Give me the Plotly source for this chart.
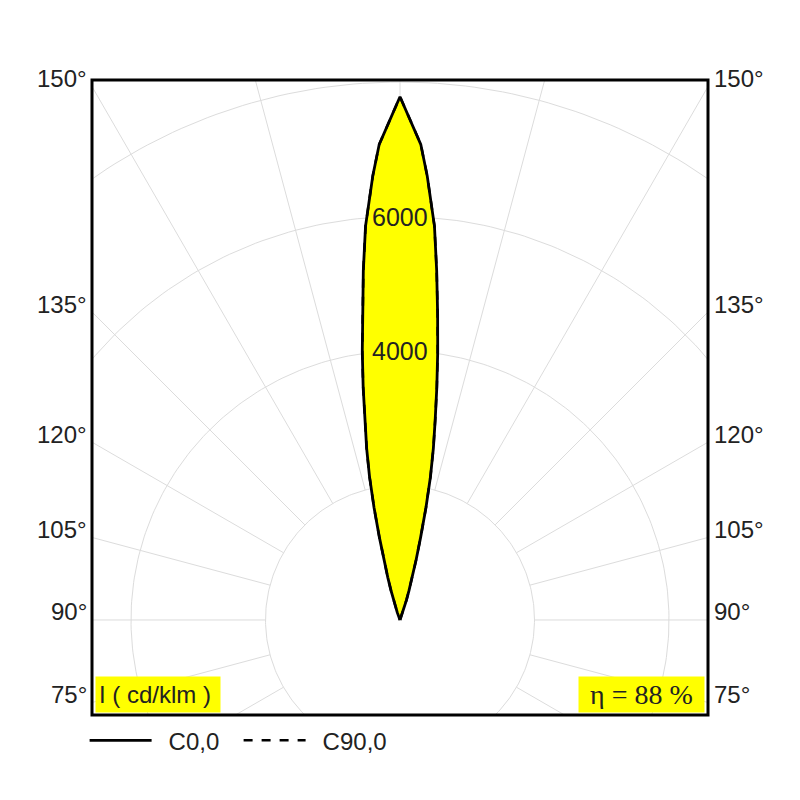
import numpy as np
import plotly.graph_objects as go

# --- Data --------------------------------------------------------------------

# gamma angle (deg, 180 = straight up) and luminous intensity in cd/klm
gamma = [158, 160, 162, 163, 164, 165, 166, 167, 168, 169, 170,
         171, 172, 173, 174, 175, 176.5, 177.5, 180]
c0_cd = [0, 120, 310, 460, 660, 930, 1270, 1720, 2180, 2600, 3010,
         3500, 4030, 4590, 5220, 5880, 6620, 7080, 7780]
c90_cd = [0, 120, 310, 460, 660, 930, 1270, 1720, 2180, 2600, 3010,
          3500, 4030, 4590, 5220, 5880, 6620, 7080, 7780]

ring_values = [2000, 4000, 6000, 8000]
ring_labels = [4000, 6000]
side_ticks = [75, 90, 105, 120, 135, 150]
spoke_step = 15
efficiency = 88

# --- Style -------------------------------------------------------------------

FONT = "Liberation Sans, Arial, sans-serif"
SERIF = "Liberation Serif, Times New Roman, serif"
TXT = "#222"
GRID = "#dcdcdc"
YELLOW = "#ffff00"

X_HALF = 4580
Y_RANGE = [-1413, 8030]


def polar_to_xy(g_deg, r):
    g = np.radians(np.asarray(g_deg, dtype=float))
    r = np.asarray(r, dtype=float)
    return r * np.sin(g), -r * np.cos(g)


def beam_outline(cd):
    # C0 on the right, C180 mirrored on the left
    x, y = polar_to_xy(gamma, cd)
    xs = np.concatenate([[0], x, -x[::-1], [0]])
    ys = np.concatenate([[0], y, y[::-1], [0]])
    return xs, ys


fig = go.Figure()

# Grid rings
t = np.linspace(0, 360, 361)
for rv in ring_values:
    gx, gy = polar_to_xy(t, np.full_like(t, rv))
    fig.add_trace(go.Scatter(x=gx, y=gy, mode="lines", showlegend=False,
                             line=dict(color=GRID, width=1), hoverinfo="skip"))

# Spokes, starting at the first ring
for a in range(0, 360, spoke_step):
    sx, sy = polar_to_xy([a, a], [ring_values[0], 20000])
    fig.add_trace(go.Scatter(x=sx, y=sy, mode="lines", showlegend=False,
                             line=dict(color=GRID, width=1), hoverinfo="skip"))

# C0 fill
bx, by = beam_outline(c0_cd)
fig.add_trace(go.Scatter(x=bx, y=by, mode="lines", showlegend=False,
                         fill="toself", fillcolor=YELLOW,
                         line=dict(color="black", width=0), hoverinfo="skip"))

# C90 (dashed, sits under C0)
bx90, by90 = beam_outline(c90_cd)
fig.add_trace(go.Scatter(x=bx90, y=by90, mode="lines", name="\u2002C90,0",
                         line=dict(color="black", width=2.5, dash="dash")))

# C0 outline
fig.add_trace(go.Scatter(x=bx, y=by, mode="lines", name="\u2002C0,0",
                         line=dict(color="black", width=2.8)))

# Ring labels
for rv in ring_labels:
    fig.add_annotation(x=0, y=rv, text=str(rv), showarrow=False,
                       font=dict(family=FONT, size=25, color=TXT))

# Side angle labels where the spokes meet the frame
for g in side_ticks:
    gr = np.radians(g)
    yv = X_HALF * (-np.cos(gr)) / np.sin(gr)
    for side, xa in ((0, "right"), (1, "left")):
        fig.add_annotation(xref="paper", x=side, y=yv, yshift=8,
                           xshift=-3 if side == 0 else 4,
                           text=f"{g}°", showarrow=False, xanchor=xa,
                           font=dict(family=FONT, size=24, color=TXT))

# Unit and efficiency boxes
fig.add_annotation(xref="paper", yref="paper", x=0.005, y=0.003,
                   xanchor="left", yanchor="bottom", text="I ( cd/klm )",
                   showarrow=False, bgcolor=YELLOW, borderpad=3,
                   width=118, height=29, align="left",
                   font=dict(family=FONT, size=24, color=TXT))
fig.add_annotation(xref="paper", yref="paper", x=0.995, y=0.003,
                   xanchor="right", yanchor="bottom", text=f"η = {efficiency} %",
                   showarrow=False, bgcolor=YELLOW, borderpad=3,
                   width=119, height=29, align="center",
                   font=dict(family=SERIF, size=28, color=TXT))

# Frame
fig.add_shape(type="rect", xref="paper", yref="paper", x0=0, y0=0, x1=1, y1=1,
              line=dict(color="black", width=3))

fig.update_layout(
    width=800, height=800,
    margin=dict(l=84, r=100, t=72, b=93),
    paper_bgcolor="white", plot_bgcolor="white",
    xaxis=dict(range=[-X_HALF, X_HALF], visible=False, fixedrange=True),
    yaxis=dict(range=Y_RANGE, visible=False, fixedrange=True),
    legend=dict(orientation="h", x=-0.012, xanchor="left", y=-0.005,
                yanchor="top", traceorder="reversed", itemwidth=62,
                entrywidth=77,
                font=dict(family=FONT, size=24, color=TXT),
                bgcolor="rgba(0,0,0,0)"),
)

fig.write_html("out.html")
